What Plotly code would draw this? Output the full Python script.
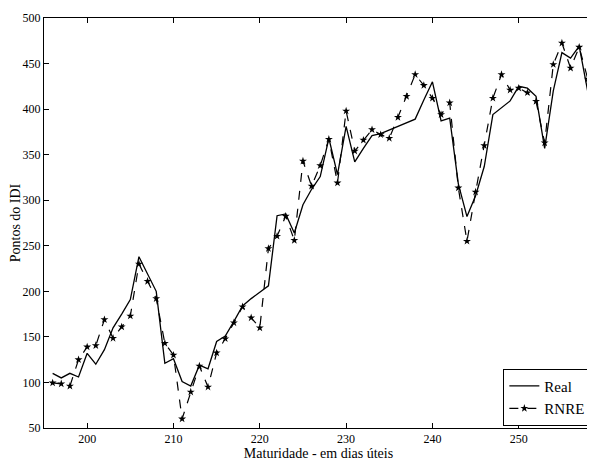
import plotly.graph_objects as go

x_days = list(range(196, 259))

real = [110, 105, 110, 106, 132, 120, 136, 160, 175, 191,
        238, 219, 200, 121, 126, 101, 96, 119, 115, 145,
        151, 167, 184, 192, 199, 206, 283, 285, 264, 295,
        312, 326, 368, 328, 381, 342, 357, 371, 373, 377,
        381, 385, 389, 410, 430, 387, 390, 318, 282, 305,
        337, 394, 401, 409, 425, 423, 414, 357, 420, 462,
        456, 469, 419]

rnre = [99.5, 98.5, 96, 125, 139, 140.5, 169, 148.5, 161, 173,
        230, 211, 192, 143, 130, 60, 89.5, 118, 95, 132.5,
        148, 165.5, 183, 171, 160, 247, 260.5, 282.5, 256, 343,
        315.5, 338, 367, 319, 398, 354, 366, 377.5, 372, 368,
        391, 414, 438, 426, 412, 394, 407, 313.5, 255, 309,
        360, 412, 438, 421, 423, 418, 408.5, 363, 449, 472.5,
        445, 468, 433]

x_ticks = [200, 210, 220, 230, 240, 250]
y_ticks = [50, 100, 150, 200, 250, 300, 350, 400, 450, 500]

serif = "Liberation Serif"

fig = go.Figure()
fig.add_trace(go.Scatter(
    x=x_days, y=real, name="Real", mode="lines",
    line=dict(color="black", width=1.3),
))
fig.add_trace(go.Scatter(
    x=x_days, y=rnre, name="RNRE", mode="lines+markers",
    line=dict(color="black", width=1.2, dash="dash"),
    marker=dict(symbol="star", size=6, color="black"),
))

axis_common = dict(
    showline=True, linecolor="black", linewidth=1, mirror="ticks",
    ticks="inside", ticklen=5, tickcolor="black", tickwidth=1,
    showgrid=False, zeroline=False, automargin=False,
    tickfont=dict(family=serif, size=12, color="black"),
)

# The page body has an 8px margin, so the figure is sized to fit the window.
fig.update_layout(
    width=587, height=456,
    margin=dict(l=36, r=2, t=10, b=36, autoexpand=False),
    paper_bgcolor="white", plot_bgcolor="white",
    font=dict(family=serif, color="black"),
    showlegend=True,
    legend=dict(
        x=0.997, y=0.006, xanchor="right", yanchor="bottom",
        bgcolor="white", bordercolor="black", borderwidth=1,
        font=dict(family=serif, size=15, color="black"),
        itemwidth=30, tracegroupgap=0,
    ),
    xaxis=dict(
        range=[195, 258.6], tickvals=x_ticks,
        title=dict(text="Maturidade - em dias úteis",
                   font=dict(family=serif, size=14, color="black"), standoff=0),
        **axis_common,
    ),
    yaxis=dict(
        range=[50, 500], tickvals=y_ticks,
        title=dict(text="Pontos do IDI",
                   font=dict(family=serif, size=14, color="black"), standoff=2),
        **axis_common,
    ),
)

fig.write_html("out.html")
